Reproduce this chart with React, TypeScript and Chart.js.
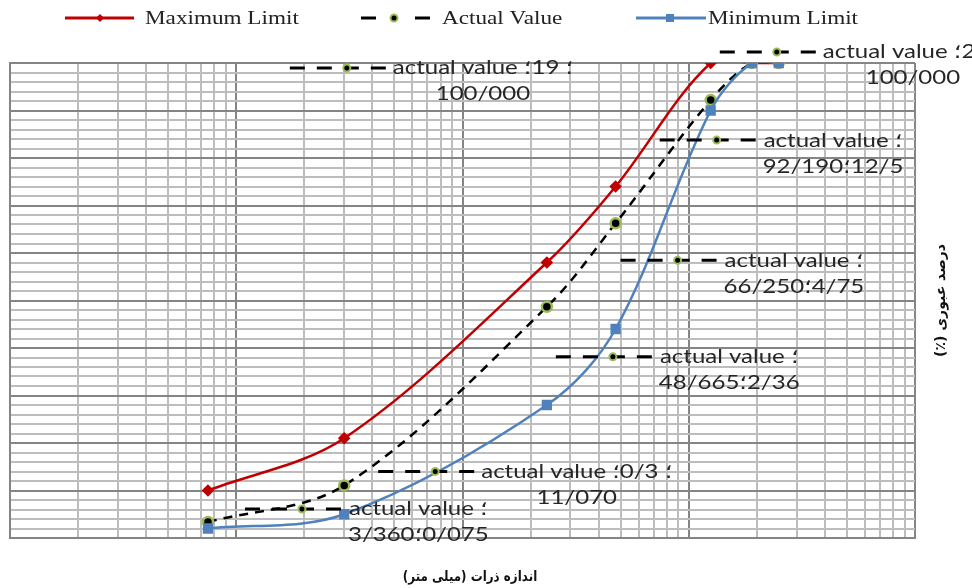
import React, { useEffect, useRef } from 'react';
import { Chart, registerables } from 'chart.js';

Chart.register(...registerables);

// ---- data ----
const sieveSizes = [0.075, 0.3, 2.36, 4.75, 12.5, 19, 25];
const maximumLimit = [10, 21, 58, 74, 100, 100, 100];
const actualValue = [3.36, 11.07, 48.665, 66.25, 92.19, 100, 100];
const minimumLimit = [2, 5, 28, 44, 90, 100, 100];
const seriesNames = ['Maximum Limit', 'Actual Value', 'Minimum Limit'];

// data label texts (as printed on the chart)
const labelTexts = [
  ['actual value ؛', '3/360؛\u200E0/075'],
  ['actual value ؛\u200E0/3 ؛', '11/070'],
  ['actual value ؛', '48/665؛\u200E2/36'],
  ['actual value ؛', '66/250؛\u200E4/75'],
  ['actual value ؛', '92/190؛\u200E12/5'],
  ['actual value ؛\u200E19 ؛', '100/000'],
  ['actual value ؛\u200E25 ؛', '100/000'],
];

// axis ticks (grid only, labels hidden)
const xDecades = [0.01, 0.1, 1, 10];
const xSignificands = [1, 2, 3, 4, 5, 6, 7, 8, 9];
const xMax = 100;
const yMin = 0;
const yMax = 100;
const yStep = 2;
const yMajorStep = 10;

// axis titles, split into their visual pieces (left piece, right piece)
const xTitleParts = ['(میلی متر)', 'اندازه ذرات'];
const yTitleParts = ['(٪)', 'درصد عبوری'];

// ---- layout / style (not data) ----
const labelOffsets = [
  [37, -13],
  [34, -14],
  [9, 50],
  [5, 37],
  [-51, 40],
  [-462, 5],
  [-59, -11],
];

const RED = '#c00000';
const BLUE = '#4f81bd';
const GREEN = '#9bbb59';

function drawActualMarker(ctx: CanvasRenderingContext2D, x: number, y: number, r: number) {
  ctx.save();
  ctx.setLineDash([]);
  ctx.beginPath();
  ctx.arc(x, y, r, 0, Math.PI * 2);
  ctx.fillStyle = '#000';
  ctx.fill();
  ctx.lineWidth = 2;
  ctx.strokeStyle = GREEN;
  ctx.stroke();
  ctx.restore();
}

function drawDashKey(ctx: CanvasRenderingContext2D, x0: number, y: number, w: number, mx: number) {
  ctx.save();
  ctx.strokeStyle = '#000';
  ctx.lineWidth = 3;
  ctx.setLineDash([15, 12]);
  ctx.beginPath();
  ctx.moveTo(x0, y);
  ctx.lineTo(x0 + w, y);
  ctx.stroke();
  ctx.restore();
  drawActualMarker(ctx, mx, y, 3.5);
}

function stretchedText(ctx: CanvasRenderingContext2D, text: string, x: number, y: number, sx: number) {
  ctx.save();
  ctx.translate(x, y);
  ctx.scale(sx, 1);
  ctx.fillText(text, 0, 0);
  ctx.restore();
}

const overlayPlugin = {
  id: 'overlay',
  afterDatasetsDraw(chart: any) {
    const ctx: CanvasRenderingContext2D = chart.ctx;
    const dsIndex = chart.data.datasets.findIndex((d: any) => d.label === seriesNames[1]);
    const meta = chart.getDatasetMeta(dsIndex);
    const sx = 1.2;
    ctx.save();
    ctx.font = '20px Lato, "DejaVu Sans", sans-serif';
    ctx.fillStyle = '#262626';
    ctx.textBaseline = 'middle';
    meta.data.forEach((pt: any, i: number) => {
      const [dx, dy] = labelOffsets[i];
      const kx = pt.x + dx;
      const ky = pt.y + dy;
      drawDashKey(ctx, kx, ky, 100, kx + 57);
      const lines = labelTexts[i];
      const widths = lines.map((l) => ctx.measureText(l).width * sx);
      const bw = Math.max(...widths);
      const cx = kx + 103 + bw / 2;
      ctx.textAlign = 'center';
      lines.forEach((l, j) => stretchedText(ctx, l, cx, ky + j * 26, sx));
    });
    ctx.restore();
  },
  afterDraw(chart: any) {
    const ctx: CanvasRenderingContext2D = chart.ctx;
    const area = chart.chartArea;
    ctx.save();
    // legend
    const lsx = 1.22;
    ctx.font = '19px "Liberation Serif", serif';
    ctx.textBaseline = 'middle';
    ctx.textAlign = 'left';
    const ly = 18;
    // Maximum Limit
    ctx.strokeStyle = RED;
    ctx.lineWidth = 3;
    ctx.beginPath();
    ctx.moveTo(65, ly);
    ctx.lineTo(134, ly);
    ctx.stroke();
    ctx.fillStyle = RED;
    ctx.beginPath();
    ctx.moveTo(100, ly - 4);
    ctx.lineTo(104, ly);
    ctx.lineTo(100, ly + 4);
    ctx.lineTo(96, ly);
    ctx.closePath();
    ctx.fill();
    ctx.fillStyle = '#222';
    stretchedText(ctx, seriesNames[0], 145, ly + 1, lsx);
    // Actual Value
    ctx.strokeStyle = '#000';
    ctx.lineWidth = 3;
    ctx.beginPath();
    ctx.moveTo(361, ly);
    ctx.lineTo(376, ly);
    ctx.moveTo(415, ly);
    ctx.lineTo(430, ly);
    ctx.stroke();
    drawActualMarker(ctx, 394, ly, 3.5);
    ctx.fillStyle = '#222';
    stretchedText(ctx, seriesNames[1], 442, ly + 1, lsx);
    // Minimum Limit
    ctx.strokeStyle = BLUE;
    ctx.lineWidth = 3;
    ctx.beginPath();
    ctx.moveTo(636, ly);
    ctx.lineTo(706, ly);
    ctx.stroke();
    ctx.fillStyle = BLUE;
    ctx.fillRect(666, ly - 4, 8, 8);
    ctx.fillStyle = '#222';
    stretchedText(ctx, seriesNames[2], 708, ly + 1, lsx);

    // axis titles (pieces drawn left-to-right visually)
    ctx.fillStyle = '#111';
    ctx.textAlign = 'left';
    const drawPieces = (parts: string[], cx: number, cy: number, font: string, sx: number) => {
      ctx.font = font;
      const gap = ctx.measureText(' ').width;
      const ws = parts.map((p) => ctx.measureText(p).width);
      const total = ws.reduce((a, b) => a + b, 0) + gap * (parts.length - 1);
      ctx.save();
      ctx.translate(cx, cy);
      ctx.scale(sx, 1);
      let x = -total / 2;
      parts.forEach((p, i) => {
        ctx.fillText(p, x, 0);
        x += ws[i] + gap;
      });
      ctx.restore();
    };
    drawPieces(xTitleParts, 470, 577, 'bold 14px "DejaVu Sans", sans-serif', 0.85);
    ctx.save();
    ctx.translate(941, (area.top + area.bottom) / 2);
    ctx.rotate(-Math.PI / 2);
    drawPieces(yTitleParts, 0, 0, 'bold 14px "DejaVu Sans", sans-serif', 1);
    ctx.restore();
    ctx.restore();
  },
};

function isDecade(v: number) {
  const l = Math.log10(v);
  return Math.abs(l - Math.round(l)) < 1e-9;
}

export default function App() {
  const ref = useRef<HTMLCanvasElement | null>(null);

  useEffect(() => {
    if (!ref.current) return;
    const pts = (ys: number[]) => sieveSizes.map((x, i) => ({ x, y: ys[i] }));
    const xTicks: number[] = [];
    xDecades.forEach((d) => xSignificands.forEach((s) => xTicks.push(+(d * s).toPrecision(6))));
    xTicks.push(xMax);
    const yTicks: number[] = [];
    for (let v = yMin; v <= yMax; v += yStep) yTicks.push(v);

    const chart = new Chart(ref.current, {
      type: 'line',
      data: {
        datasets: [
          {
            label: seriesNames[2],
            data: pts(minimumLimit),
            borderColor: BLUE,
            backgroundColor: BLUE,
            pointBackgroundColor: BLUE,
            pointBorderColor: BLUE,
            pointStyle: 'rect',
            pointRadius: 5.5,
            borderWidth: 2.5,
            tension: 0.33,
            capBezierPoints: false,
            order: 0,
          },
          {
            label: seriesNames[1],
            data: pts(actualValue),
            borderColor: '#000',
            backgroundColor: '#000',
            borderDash: [9, 7],
            pointBackgroundColor: '#000',
            pointBorderColor: GREEN,
            pointBorderWidth: 2.5,
            pointStyle: 'circle',
            pointRadius: 5,
            borderWidth: 2.5,
            tension: 0.33,
            capBezierPoints: false,
            order: 1,
          },
          {
            label: seriesNames[0],
            data: pts(maximumLimit),
            borderColor: RED,
            backgroundColor: RED,
            pointBackgroundColor: RED,
            pointBorderColor: RED,
            pointStyle: 'rectRot',
            pointRadius: 4.5,
            borderWidth: 2.5,
            tension: 0.33,
            capBezierPoints: false,
            order: 2,
          },
        ],
      },
      options: {
        animation: false,
        responsive: false,
        maintainAspectRatio: false,
        layout: { padding: { left: 10, right: 57, top: 63, bottom: 50 } },
        plugins: { legend: { display: false }, tooltip: { enabled: false } },
        scales: {
          x: {
            type: 'logarithmic',
            min: xDecades[0],
            max: xMax,
            afterBuildTicks: (s: any) => {
              s.ticks = xTicks.map((v) => ({ value: v }));
            },
            ticks: { display: false },
            grid: {
              drawTicks: false,
              lineWidth: 2,
              color: (c: any) => (isDecade(c.tick.value) ? '#858585' : '#bdbdbd'),
            },
            border: { color: '#858585', width: 2 },
          },
          y: {
            type: 'linear',
            min: yMin,
            max: yMax,
            afterBuildTicks: (s: any) => {
              s.ticks = yTicks.map((v) => ({ value: v }));
            },
            ticks: { display: false },
            grid: {
              drawTicks: false,
              lineWidth: 2,
              color: (c: any) => (c.tick.value % yMajorStep === 0 ? '#858585' : '#bdbdbd'),
            },
            border: { color: '#858585', width: 2 },
          },
        },
      },
      plugins: [overlayPlugin],
    });
    return () => chart.destroy();
  }, []);

  return (
    <div style={{ position: 'absolute', left: 0, top: 0, width: 972, height: 588, background: '#fff' }}>
      <canvas ref={ref} width={972} height={588} style={{ width: 972, height: 588 }} />
    </div>
  );
}
